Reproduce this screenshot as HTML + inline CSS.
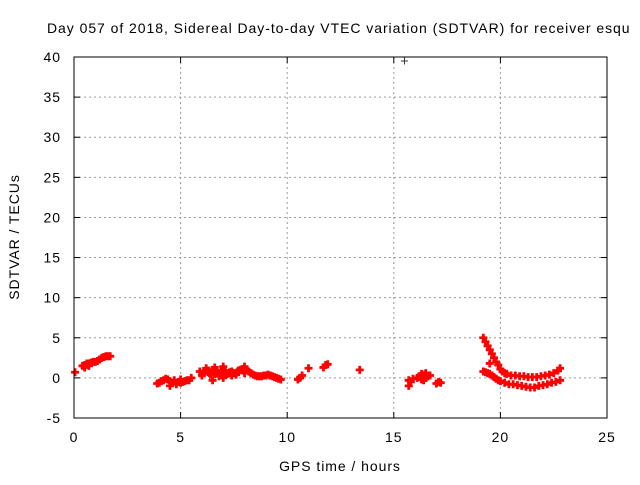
<!DOCTYPE html>
<html><head><meta charset="utf-8"><style>
body{margin:0;background:#fff;font-family:"Liberation Sans",sans-serif}
svg text{font-family:"Liberation Sans",sans-serif;font-size:14px;fill:#000;letter-spacing:0.95px}
</style></head><body>
<svg id="c" width="640" height="480" xmlns="http://www.w3.org/2000/svg">
<rect width="640" height="480" fill="#fff"/>
<text x="47" y="33">Day 057 of 2018, Sidereal Day-to-day VTEC variation (SDTVAR) for receiver esqu</text>
<text transform="translate(19,237) rotate(-90)" text-anchor="middle">SDTVAR / TECUs</text>
<text x="340" y="471" text-anchor="middle">GPS time / hours</text>
<g id="grid"></g><g id="pts"></g>
<rect x="74" y="57" width="533" height="361" fill="none" stroke="#000"/>
</svg>
<script>
const xTicks=[0,5,10,15,20,25];
const yTicks=[-5,0,5,10,15,20,25,30,35,40];
const hours=[0.05,0.4,0.5,0.5,0.6,0.7,0.7,0.8,0.9,1.0,1.1,1.2,1.3,1.4,1.5,1.6,1.7,
3.9,4.0,4.1,4.2,4.3,4.4,4.5,4.5,4.6,4.7,4.8,4.9,5.0,5.0,5.1,5.2,5.3,5.4,5.5,
5.9,6.0,6.1,6.2,6.3,6.4,6.5,6.6,6.7,6.8,6.9,7.0,7.0,7.1,7.2,7.3,7.4,7.5,7.6,7.7,7.8,7.9,8.0,8.0,8.1,8.2,8.3,8.4,8.5,8.6,8.7,8.8,8.9,9.0,9.1,9.2,9.3,9.4,9.5,9.6,9.7,6.2,6.6,7.0,7.4,6.5,6.05,6.35,6.85,7.25,7.65,
10.5,10.6,10.7,11.0,11.7,11.8,11.9,13.4,
15.7,15.7,15.8,15.9,16.1,16.2,16.3,16.4,16.4,16.5,16.6,16.7,16.3,16.5,17.0,17.1,17.2,16.25,16.45,
19.2,19.3,19.4,19.5,19.6,19.7,19.8,19.9,20.0,20.1,20.2,20.3,20.5,20.7,20.9,21.1,21.3,21.5,21.7,21.9,22.1,22.3,22.5,22.7,22.8,
19.2,19.3,19.4,19.5,19.6,19.7,19.8,19.9,20.0,20.2,20.4,20.6,20.8,21.0,21.2,21.4,21.6,21.8,22.0,22.2,22.4,22.6,22.8,19.5];
const sdtvar=[0.7,1.5,1.6,1.3,1.8,1.8,1.5,1.9,2.0,2.0,2.1,2.3,2.5,2.6,2.7,2.7,2.7,
-0.7,-0.6,-0.4,-0.3,-0.1,-0.2,-1.0,-0.4,-0.6,-0.3,-0.8,-0.5,-0.6,-0.2,-0.5,-0.4,-0.3,-0.3,0.0,
0.8,0.3,0.7,0.9,0.9,0.4,1.0,1.3,0.9,0.2,0.8,0.3,1.4,0.9,0.5,0.7,0.8,0.6,0.4,0.9,1.0,1.1,0.6,1.4,1.0,0.8,0.6,0.4,0.3,0.2,0.2,0.2,0.3,0.3,0.4,0.3,0.2,0.1,0.0,-0.1,-0.2,1.2,0.5,0.0,0.3,-0.3,0.6,0.6,0.6,0.6,0.7,
-0.2,0.0,0.3,1.2,1.3,1.6,1.7,1.0,
-0.3,-1.0,-0.5,-0.1,0.0,0.2,0.5,0.3,-0.3,0.0,0.2,0.3,-0.2,0.6,-0.7,-0.5,-0.6,0.2,0.4,
5.0,4.5,4.0,3.5,3.0,2.5,2.0,1.6,1.1,0.8,0.6,0.5,0.3,0.3,0.2,0.2,0.1,0.1,0.1,0.2,0.3,0.4,0.6,0.9,1.2,
0.8,0.7,0.6,0.5,0.3,0.1,-0.1,-0.3,-0.4,-0.6,-0.8,-0.8,-0.9,-1.0,-1.1,-1.2,-1.2,-1.0,-0.9,-0.8,-0.6,-0.5,-0.3,1.8];
const outlierHours=[15.5];
const outlierValues=[39.5];
const X=h=>74+h*(533/25);
const Y=v=>418-(v+5)*(361/45);
const NS="http://www.w3.org/2000/svg";
const grid=document.getElementById('grid'),pts=document.getElementById('pts');
function mk(tag,attrs,parent){const e=document.createElementNS(NS,tag);for(const k in attrs)e.setAttribute(k,attrs[k]);parent.appendChild(e);return e;}
xTicks.forEach(t=>{const x=X(t);
 if(t>0&&t<25){const g=mk('line',{x1:x,y1:57,x2:x,y2:418,stroke:'#999','stroke-dasharray':'2,3'},grid);
 
 }
 mk('line',{x1:x,y1:418,x2:x,y2:412,stroke:'#000'},grid);mk('line',{x1:x,y1:57,x2:x,y2:63,stroke:'#000'},grid);
 const l=mk('text',{x:x,y:442,'text-anchor':'middle'},grid);l.textContent=t;
 
 });
yTicks.forEach(t=>{const y=Y(t);
 if(t>-5&&t<40){const g=mk('line',{x1:74,y1:y,x2:607,y2:y,stroke:'#999','stroke-dasharray':'2,3'},grid);
 
 }
 mk('line',{x1:74,y1:y,x2:80,y2:y,stroke:'#000'},grid);mk('line',{x1:607,y1:y,x2:601,y2:y,stroke:'#000'},grid);
 const l=mk('text',{x:61,y:y+5,'text-anchor':'end'},grid);l.textContent=t;
 
 });
function plus(h,v,col,w,s){const x=X(h),y=Y(v);
 return mk('path',{d:`M${x-s},${y}H${x+s}M${x},${y-s}V${y+s}`,stroke:col,'stroke-width':w,fill:'none'},pts);}
hours.forEach((h,i)=>{const p=plus(h,sdtvar[i],'#f00',2.8,4);
 
 });
outlierHours.forEach((h,i)=>{const p=plus(h,outlierValues[i],'#333',1,3.5);
 
 });
</script>
</body></html>
